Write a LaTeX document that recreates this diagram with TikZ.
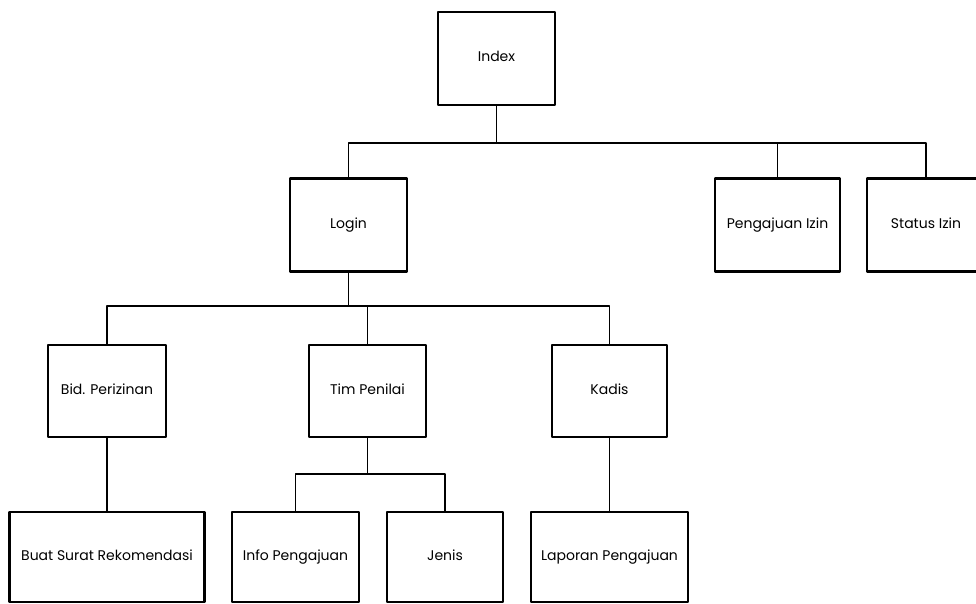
\documentclass[tikz,border=0pt]{standalone}
\usepackage{fontspec}
\setmainfont{Poppins}
\usepackage{tikz}
\usetikzlibrary{positioning}

\begin{document}
\begin{tikzpicture}[x=1pt, y=-1pt, line join=round]
\tikzstyle{box}=[draw, line width=2.8pt, fill=white, align=center, minimum height=93pt, inner sep=2pt, text height=1.6ex, text depth=.35ex, font=\fontsize{14}{16}\selectfont]
\tikzstyle{link}=[line width=1.8pt]
\useasboundingbox (0,0) rectangle (976,604);
\clip (0,0) rectangle (976,604);

% level 0 and 1
\node[box, minimum width=117pt] (index) at (496.5,58.5) {Index};
\node[box, minimum width=117pt] (login) at (348.5,225) {Login};
\node[box, minimum width=125pt] (pengajuan) at (777.5,225) {Pengajuan Izin};
\node[box, minimum width=118pt] (status) at (926,225) {Status Izin};

% level 2
\node[box, minimum width=118pt, minimum height=92pt] (bid) at (107,391) {Bid. Perizinan};
\node[box, minimum width=117pt, minimum height=92pt] (tim) at (367.5,391) {Tim Penilai};
\node[box, minimum width=115pt, minimum height=92pt] (kadis) at (609.5,391) {Kadis};

% level 3
\node[box, minimum width=195pt, minimum height=90pt] (surat) at (107,557) {Buat Surat Rekomendasi};
\node[box, minimum width=127pt, minimum height=90pt] (info) at (295.5,557) {Info Pengajuan};
\node[box, minimum width=116pt, minimum height=90pt] (jenis) at (445,557) {Jenis};
\node[box, minimum width=157pt, minimum height=90pt] (laporan) at (609.5,557) {Laporan Pengajuan};

\coordinate (bar1) at (0,143);
\coordinate (bar2) at (0,306);
\coordinate (bar3) at (0,474);

\draw[link] (index.south) -- (index |- bar1);
\draw[link] (login.north) -- (login |- bar1) -- (status |- bar1) -- (status.north);
\draw[link] (pengajuan.north) -- (pengajuan |- bar1);

\draw[link] (login.south) -- (login |- bar2);
\draw[link] (bid.north) -- (bid |- bar2) -- (kadis |- bar2) -- (kadis.north);
\draw[link] (tim.north) -- (tim |- bar2);

\draw[link] (bid.south) -- (surat.north);
\draw[link] (tim.south) -- (tim |- bar3);
\draw[link] (info.north) -- (info |- bar3) -- (jenis |- bar3) -- (jenis.north);
\draw[link] (kadis.south) -- (laporan.north);
\end{tikzpicture}
\end{document}
